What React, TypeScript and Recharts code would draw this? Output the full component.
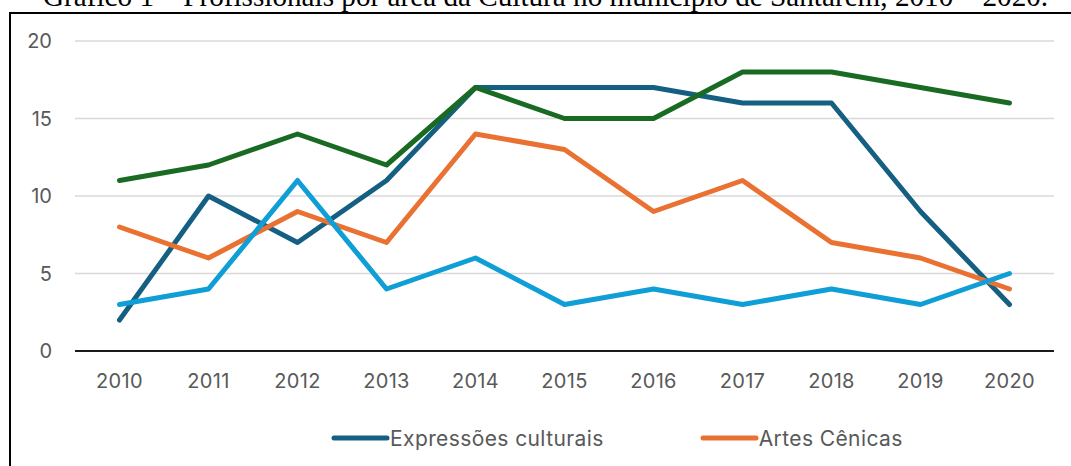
import React from "react";
import { LineChart, Line, XAxis, YAxis, CartesianGrid } from "recharts";

const years = ["2010", "2011", "2012", "2013", "2014", "2015", "2016", "2017", "2018", "2019", "2020"];
const expressoesCulturais = [2, 10, 7, 11, 17, 17, 17, 16, 16, 9, 3];
const artesCenicas = [8, 6, 9, 7, 14, 13, 9, 11, 7, 6, 4];
const serieVerde = [11, 12, 14, 12, 17, 15, 15, 18, 18, 17, 16];
const serieAzulClaro = [3, 4, 11, 4, 6, 3, 4, 3, 4, 3, 5];
const yTicks = [0, 5, 10, 15, 20];

const series = [
  { key: "expressoes", name: "Expressões culturais", color: "#156082", values: expressoesCulturais, legend: true },
  { key: "artes", name: "Artes Cênicas", color: "#E97132", values: artesCenicas, legend: true },
  { key: "verde", name: "Série 3", color: "#196B24", values: serieVerde, legend: false },
  { key: "azul", name: "Série 4", color: "#0F9ED5", values: serieAzulClaro, legend: false },
];

const data = years.map((y, i) => {
  const row: Record<string, string | number> = { year: y };
  series.forEach((s) => {
    row[s.key] = s.values[i];
  });
  return row;
});

const FONT = "Inter, 'Noto Sans', sans-serif";

export default function App() {
  return (
    <div style={{ position: "absolute", left: 0, top: 0, width: 1071, height: 466, overflow: "hidden", background: "#fff" }}>
      <div
        style={{
          position: "absolute",
          left: 43,
          top: -18,
          fontFamily: "'Liberation Serif', 'Times New Roman', serif",
          fontSize: 29.2,
          lineHeight: 1,
          whiteSpace: "nowrap",
          color: "#000",
        }}
      >
        Gráfico 1 – Profissionais por área da Cultura no município de Santarém, 2010 – 2020.
      </div>
      <div
        style={{
          position: "absolute",
          left: 9,
          top: 12,
          width: 1200,
          height: 600,
          border: "2px solid #000",
          boxSizing: "border-box",
        }}
      />
      <div style={{ position: "absolute", left: 0, top: 0 }}>
        <LineChart width={1071} height={466} data={data} margin={{ top: 41, right: 17, bottom: 75, left: 35 }}>
          <CartesianGrid vertical={false} stroke="#D9D9D9" strokeWidth={1.5} />
          <XAxis
            dataKey="year"
            padding={{ left: 44.5, right: 44.5 }}
            tickLine={false}
            tickSize={0}
            tickMargin={23}
            height={40}
            axisLine={{ stroke: "#1a1a1a", strokeWidth: 2 }}
            tick={{ fill: "#595959", fontSize: 20, fontFamily: FONT, letterSpacing: 0.3 }}
            interval={0}
          />
          <YAxis
            domain={[0, 20]}
            ticks={yTicks}
            width={40}
            axisLine={false}
            tickLine={false}
            tickSize={0}
            tickMargin={23}
            tick={{ fill: "#595959", fontSize: 20, fontFamily: FONT }}
          />
          {series.map((s) => (
            <Line
              key={s.key}
              type="linear"
              dataKey={s.key}
              name={s.name}
              stroke={s.color}
              strokeWidth={5}
              strokeLinecap="round"
              strokeLinejoin="round"
              dot={false}
              activeDot={false}
              isAnimationActive={false}
            />
          ))}
        </LineChart>
      </div>
      <div
        style={{
          position: "absolute",
          left: 331,
          top: 424,
          height: 28,
          display: "flex",
          alignItems: "center",
          fontFamily: FONT,
          fontSize: 21,
          letterSpacing: 0.4,
          color: "#595959",
          whiteSpace: "nowrap",
        }}
      >
        {series
          .filter((s) => s.legend)
          .map((s, i) => (
            <div key={s.key} style={{ display: "flex", alignItems: "center", marginLeft: i === 0 ? 0 : 96 }}>
              <svg width={59} height={10} style={{ display: "block" }}>
                <line x1={3} y1={5} x2={56} y2={5} stroke={s.color} strokeWidth={5} strokeLinecap="round" />
              </svg>
              <span>{s.name}</span>
            </div>
          ))}
      </div>
    </div>
  );
}
